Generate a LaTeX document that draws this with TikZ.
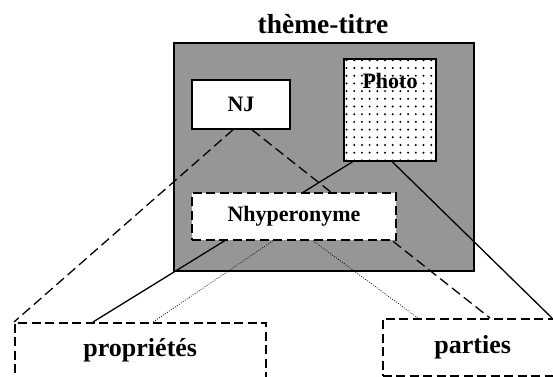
\documentclass[tikz,border=0pt]{standalone}
\usepackage{fontspec}
\setmainfont{Liberation Serif}
\usetikzlibrary{patterns.meta}
\pgfdeclarelayer{back}
\pgfdeclarelayer{links}
\pgfsetlayers{back,links,main}

\begin{document}
\begin{tikzpicture}[
x=1pt, y=-1pt,
font=\fontsize{22}{24}\bfseries\selectfont,
box/.style={draw, line width=1.5pt, fill=white, inner sep=0pt, align=center},
dashbox/.style={box, dash pattern=on 9pt off 4.5pt},
biglabel/.style={font=\fontsize{26}{28}\bfseries\selectfont},
dashlink/.style={line width=1.3pt, dash pattern=on 10pt off 5pt},
solidlink/.style={line width=1.3pt},
dotlink/.style={line width=0.8pt, dash pattern=on 0.8pt off 1.6pt}
]
\useasboundingbox (0,0) rectangle (553,376);
\clip (0,0) rectangle (553,376);
\begin{pgfonlayer}{back}
\node[box, fill=black!41, anchor=north west, minimum width=300pt, minimum height=228pt] (frame) at (173,42) {};
\end{pgfonlayer}
\node[font=\fontsize{27.5}{30}\bfseries\selectfont, anchor=base] (title) at (323,33) {thème-titre};
\node[box, minimum width=98pt, minimum height=49pt] (nj) at (241,104.5) {NJ};
\node[box, anchor=north, minimum width=92pt, text height=30pt, text depth=72pt,
  preaction={fill=white}, pattern={Dots[distance=7.7pt, radius=1.1pt]}] (photo) at (390,58) {Photo};
\node[dashbox, minimum width=204pt, minimum height=47pt] (nhyp) at (294,216.5) {Nhyperonyme};
\node[dashbox, biglabel, anchor=north west, minimum width=251pt, text height=34pt, text depth=30pt] (prop) at (14,322) {propriétés};
\node[dashbox, biglabel, anchor=north west, minimum width=180pt, text height=35pt, text depth=22pt] (parties) at (382,318) {parties};
% links, under the boxes
\begin{pgfonlayer}{links}
\draw[dashlink] ([xshift=-8pt]nj.south) -- (prop.north west);
\draw[dashlink] ([xshift=11pt]nj.south) -- ([xshift=108pt]parties.north west);
\draw[solidlink] ([xshift=-37pt]photo.south) -- ([xshift=79pt]prop.north west);
\draw[solidlink] ([xshift=2pt]photo.south) -- ([xshift=170pt]parties.north west);
\draw[dotlink] ([xshift=-21pt]nhyp.south) -- ([xshift=139pt]prop.north west);
\draw[dotlink] ([xshift=19pt]nhyp.south) -- ([xshift=36pt]parties.north west);
\end{pgfonlayer}
\end{tikzpicture}
\end{document}
